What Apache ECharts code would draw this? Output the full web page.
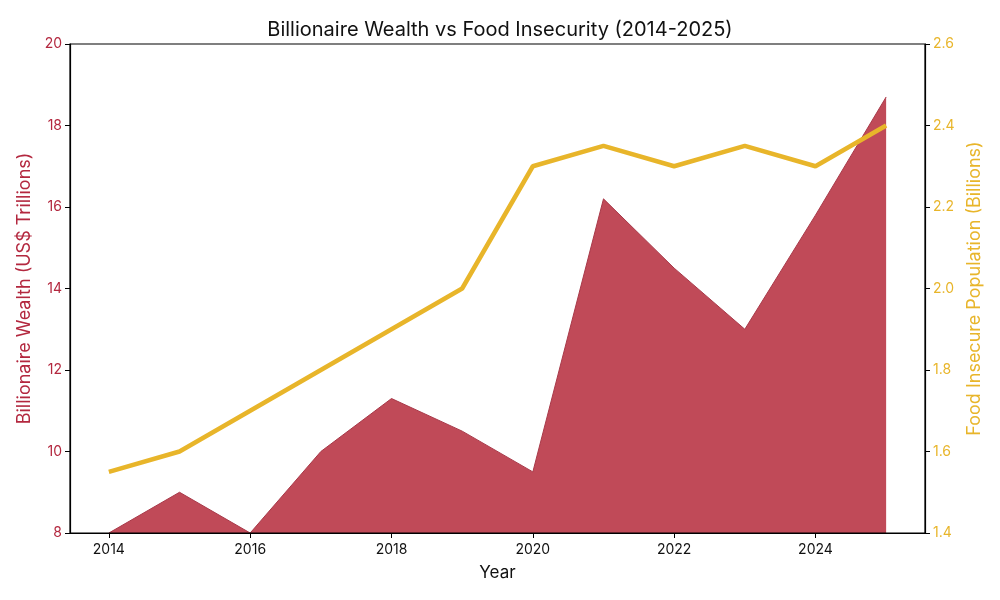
<!DOCTYPE html>
<html><head><meta charset="utf-8">
<script src="https://cdn.jsdelivr.net/npm/echarts@6/dist/echarts.min.js"></script>
<style>html,body{margin:0;padding:0;background:#fff}#c{width:1000px;height:600px}</style>
</head><body><div id="c"></div>
<script>
const years = [2014,2015,2016,2017,2018,2019,2020,2021,2022,2023,2024,2025];
const wealth = [8.0,9.0,8.0,10.0,11.3,10.5,9.5,16.2,14.5,13.0,15.8,18.7];
const food = [1.55,1.6,1.7,1.8,1.9,2.0,2.3,2.35,2.3,2.35,2.3,2.4];
const xTicks = [2014,2016,2018,2020,2022,2024];

const chart = echarts.init(document.getElementById('c'));
const F = 'Inter, Roboto, "Noto Sans", sans-serif';
const red = '#b3283f', gold = '#e8b52a';
chart.setOption({
  animation:false,
  title:{text:'Billionaire Wealth vs Food Insecurity (2014-2025)',left:'center',top:15,
    textStyle:{fontFamily:F,fontSize:20,fontWeight:'normal',color:'#111'}},
  grid:{left:70,right:75,top:44,bottom:67},
  xAxis:{type:'value',min:2013.45,max:2025.55,name:'Year',nameLocation:'middle',nameGap:31,
    nameTextStyle:{fontFamily:F,fontSize:17,color:'#111'},
    axisLine:{onZero:false,lineStyle:{color:'#000',width:1.2}},
    axisTick:{show:true,customValues:xTicks,length:5,lineStyle:{color:'#000'}},
    axisLabel:{customValues:xTicks,formatter:v=>String(v),fontFamily:F,fontSize:14,color:'#111',margin:10},
    splitLine:{show:false}},
  yAxis:[
    {type:'value',min:8,max:20,interval:2,name:'Billionaire Wealth (US$ Trillions)',
      nameLocation:'middle',nameGap:35,nameTextStyle:{fontFamily:F,fontSize:18,color:red},
      axisLine:{show:true,lineStyle:{color:'#000',width:1.2}},
      axisTick:{show:true,length:5,lineStyle:{color:'#000'}},
      axisLabel:{fontFamily:F,fontSize:14,color:red,margin:8},splitLine:{show:false}},
    {type:'value',min:1.4,max:2.6,interval:0.2,name:'Food Insecure Population (Billions)',
      nameLocation:'middle',nameGap:39,nameRotate:90,nameTextStyle:{fontFamily:F,fontSize:18,color:gold},
      axisLine:{show:true,lineStyle:{color:'#000',width:1.2}},
      axisTick:{show:true,length:5,lineStyle:{color:'#000'}},
      axisLabel:{fontFamily:F,fontSize:14,color:gold,margin:8,formatter:v=>v.toFixed(1)},splitLine:{show:false}}
  ],
  series:[
    {type:'line',yAxisIndex:0,data:years.map((y,i)=>[y,wealth[i]]),symbol:'none',
      lineStyle:{color:'#a83a4a',width:1},areaStyle:{color:'#c04a58',opacity:1,origin:'start'},z:1},
    {type:'line',yAxisIndex:1,data:years.map((y,i)=>[y,food[i]]),symbol:'none',
      lineStyle:{color:gold,width:4.5},z:2}
  ],
  graphic:[{type:'rect',shape:{x:70,y:44,width:855,height:489},style:{fill:'none',stroke:'#000',lineWidth:1.2},z:100,silent:true}]
});
</script></body></html>
